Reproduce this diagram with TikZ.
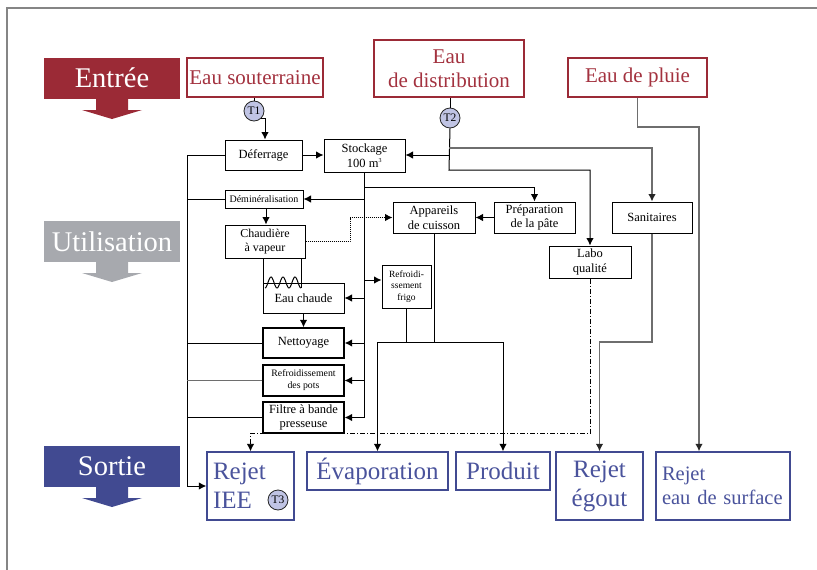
\documentclass[tikz,border=0pt]{standalone}
\usepackage{fontspec}
\setmainfont{Liberation Serif}
\usetikzlibrary{arrows.meta}
\definecolor{inred}{HTML}{9B2A36}
\definecolor{inredtext}{HTML}{A3323F}
\definecolor{midgray}{HTML}{A7A9AE}
\definecolor{outblue}{HTML}{414A91}
\definecolor{outbluetext}{HTML}{4A539C}
\definecolor{tagfill}{HTML}{C0C4E4}
\definecolor{framegray}{HTML}{858585}
\definecolor{linegray}{HTML}{6E6E6E}
\begin{document}
\begin{tikzpicture}[x=1pt,y=-1pt,
  box/.style={draw, line width=1pt, inner sep=0pt, align=center,
    font=\fontsize{12.5}{14.5}\selectfont},
  smallbox/.style={box, font=\fontsize{9.8}{12}\selectfont},
  inbox/.style={draw=inred, line width=1.1pt, text=inredtext, inner sep=0pt,
    align=center, font=\fontsize{21}{24}\selectfont},
  outbox/.style={draw=outblue, line width=1.4pt, text=outbluetext, inner sep=0pt,
    align=center, font=\fontsize{25}{29}\selectfont},
  banner/.style={inner sep=0pt, minimum width=136pt, minimum height=41pt,
    text=white, font=\fontsize{28.5}{30}\selectfont},
  tag/.style={circle, draw=black!85, line width=0.8pt, fill=tagfill,
    minimum size=20pt, inner sep=0pt, font=\fontsize{11.5}{11.5}\selectfont},
  tip/.style={-{Latex[length=7.5pt,width=7.5pt]}},
  arr/.style={tip, line width=1pt},
  link/.style={line width=1pt},
  glink/.style={line width=1.2pt, draw=linegray},
  garr/.style={-{Latex[length=7.5pt,width=7.5pt,color=black!85]}, line width=1.2pt, draw=linegray},
  bus/.style={line width=1.8pt},
  dashdot/.style={line width=0.9pt, dash pattern=on 5pt off 2pt on 1pt off 2pt}]

\useasboundingbox (0,0) rectangle (817,570);

% page frame
\draw[framegray, line width=1.5pt] (7,570) -- (7,8) -- (817,8);

% stage banners with their arrows
\node[banner, fill=inred] (entree) at (112,78) {Entrée};
\fill[inred] (96,98) -- (96,110) -- (82,110) -- (112,119) -- (142,110) -- (128,110) -- (128,98) -- cycle;
\node[banner, fill=midgray] (utilisation) at (112,241.5) {Utilisation};
\fill[midgray] (96,262) -- (96,273) -- (82,273) -- (112,282) -- (142,273) -- (128,273) -- (128,262) -- cycle;
\node[banner, fill=outblue] (sortie) at (112,466.5) {Sortie};
\fill[outblue] (96,487) -- (96,498) -- (82,498) -- (112,507) -- (142,498) -- (128,498) -- (128,487) -- cycle;

% water sources
\node[inbox, minimum width=136pt, minimum height=39pt] (sout) at (255,77.5) {Eau souterraine};
\node[inbox, minimum width=150pt, minimum height=57pt] (dist) at (449,68.5) {Eau\\de distribution};
\node[inbox, minimum width=139pt, minimum height=39pt] (pluie) at (637.5,77.5) {Eau de pluie};

% sampling points
\node[tag] (T1) at (254,111) {T1};
\node[tag] (T2) at (450,118) {T2};

% process units
\node[box, minimum width=77pt, minimum height=30pt] (defer) at (263.5,155) {Déferrage};
\node[box, minimum width=81pt, minimum height=33pt] (stock) at (364.5,155.5) {Stockage\\100 m\textsuperscript{\fontsize{6}{6}\selectfont 3}};
\node[box, minimum width=78pt, minimum height=18pt, font=\fontsize{10}{12}\selectfont] (demin) at (264,199) {Déminéralisation};
\node[box, minimum width=80pt, minimum height=33pt, font=\fontsize{12}{14.5}\selectfont] (chaud) at (265,241.5) {Chaudière\\à vapeur};
\node[box, minimum width=82pt, minimum height=31pt] (appar) at (434,217.5) {Appareils\\de cuisson};
\node[box, minimum width=81pt, minimum height=31pt] (prep) at (534.5,217.5) {Préparation\\de la pâte};
\node[box, minimum width=80pt, minimum height=31pt] (sanit) at (652,217.5) {Sanitaires};
\node[box, minimum width=82pt, minimum height=32pt] (labo) at (590,262) {Labo\\qualité};
\node[smallbox, minimum width=49pt, minimum height=43pt, font=\fontsize{9.5}{11.5}\selectfont] (frigo) at (406.5,286.5) {Refroidi-\\ssement\\frigo};
\node[box, minimum width=81pt, minimum height=30pt] (chaude) at (303.5,298) {Eau chaude};
\node[box, line width=1.4pt, minimum width=81pt, minimum height=30pt] (netto) at (303.5,343) {Nettoyage};
\node[smallbox, line width=1.2pt, minimum width=81pt, minimum height=31pt] (pots) at (303.5,380.5) {Refroidissement\\des pots};
\node[box, line width=1.3pt, minimum width=81pt, minimum height=31pt] (filtre) at (303.5,417.5) {Filtre à bande\\presseuse};

% outlets
\node[outbox, minimum width=87pt, minimum height=68pt, text width=75pt, align=left] (iee) at (250.5,486) {Rejet\\IEE};
\node[tag] (T3) at (278,500) {T3};
\node[outbox, minimum width=141pt, minimum height=38pt] (evap) at (377.5,471) {Évaporation};
\node[outbox, minimum width=94pt, minimum height=38pt] (prod) at (503,471) {Produit};
\node[outbox, minimum width=87pt, minimum height=68pt] (egout) at (599.5,486) {Rejet\\égout};
\node[outbox, minimum width=134pt, minimum height=68pt, text width=122pt, align=left,
  font=\fontsize{20.5}{24}\selectfont] (surf) at (723,486) {Rejet\\eau de surface};

% groundwater line
\draw[link] (T1.north) -- (T1.north |- sout.south);
\draw[arr] (T1.south east) -| ([xshift=1.5pt]defer.north);
\draw[arr] (defer.east) -- (stock.west |- defer.east);

% mains water line
\coordinate (d0) at (449,148);
\coordinate (d1) at (449,155);
\coordinate (d2) at (449,170);
\draw[link] (T2.north) -- (T2.north |- dist.south);
\draw[arr] (T2.south) -- (d2) -| (labo.north);
\draw[garr] (d0) -| (sanit.north);
\draw[arr] (d1) -- (stock.east |- d1);

% rain water line
\coordinate (p1) at (699,127);
\draw[garr] (pluie.south) |- (p1) -- (p1 |- surf.north);

% distribution from storage
\coordinate (s1) at (364.5,187);
\coordinate (s2) at (364.5,199);
\coordinate (s3) at (364.5,280);
\coordinate (s4) at (364.5,298);
\coordinate (s5) at (364.5,343);
\coordinate (s6) at (364.5,380.5);
\coordinate (s7) at (364.5,417.5);
\draw[bus] (stock.south) -- (s7);
\draw[arr] (s1) -| (prep.north);
\draw[arr] (s2) -- (demin.east);
\draw[arr] (s3) -- (frigo.west |- s3);
\draw[arr] (s4) -- (chaude.east);
\draw[arr] (s5) -- (netto.east);
\draw[arr] (s6) -- (pots.east);
\draw[arr] (s7) -- (filtre.east);

\draw[arr] (prep.west) -- (appar.east);
\draw[arr] ([xshift=2pt]demin.south) -- ([xshift=1pt]chaud.north);
\draw[arr, densely dotted] (chaud.east) -- (350,241.5) |- (appar.west);
\draw[arr] (chaude.south) -- (netto.north);

% heating coil between boiler and hot water
\draw[link] (263,258) -- (263,283);
\draw[link] (301,258) -- (301,288);
\draw[link, domain=0:36, samples=90] plot ({265+\x},{282.5+5.5*cos(\x*30)});

% returns to the IEE outlet
\coordinate (l0) at (187,486);
\draw[arr] (defer.west) -| (l0) -- (iee.west);
\draw[link] (demin.west) -- (demin.west -| l0);
\draw[link] (netto.west) -- (netto.west -| l0);
\draw[glink] (pots.west) -- (pots.west -| l0);
\draw[link] (filtre.west) -- (filtre.west -| l0);

% cooking and cooling outflows
\coordinate (c0) at (377.5,342);
\coordinate (c1) at (503,342);
\draw[link] (appar.south) -- (appar.south |- c0);
\draw[link] (frigo.south) -- (frigo.south |- c0);
\draw[arr] (c1) -- (c0) -- (evap.north);
\draw[arr] (c1) -- (prod.north);

% sanitary outflow
\coordinate (e0) at (652,342);
\draw[garr] (sanit.south) -- (e0) -| (egout.north);

% laboratory outflow
\coordinate (q0) at (590,433);
\draw[dashdot, tip] (labo.south) -- (q0) -| (iee.north);

\end{tikzpicture}
\end{document}
